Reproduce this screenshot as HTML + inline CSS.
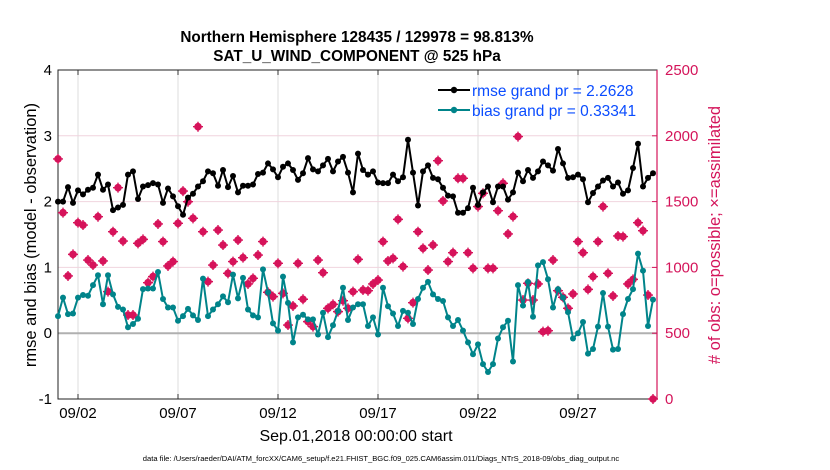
<!DOCTYPE html>
<html><head><meta charset="utf-8"><style>
body{margin:0;background:#fff;}
svg{display:block;font-family:"Liberation Sans",Arial,sans-serif;}
</style></head><body>
<svg id="chart" width="830" height="470" viewBox="0 0 830 470">
<g id="grid"></g>
<g id="axes"></g>
<g id="marks"></g>
<text x="357" y="42" text-anchor="middle" font-size="15.3" font-weight="bold">Northern Hemisphere 128435 / 129978 = 98.813%</text>
<text x="357" y="61" text-anchor="middle" font-size="15.3" font-weight="bold">SAT_U_WIND_COMPONENT @ 525 hPa</text>
<text transform="translate(36,235) rotate(-90)" text-anchor="middle" font-size="16.5">rmse and bias (model - observation)</text>
<text transform="translate(720,235) rotate(-90)" text-anchor="middle" font-size="16.5" fill="#d4145a"># of obs: o=possible; ×=assimilated</text>
<text x="356" y="441" text-anchor="middle" font-size="16">Sep.01,2018 00:00:00 start</text>
<text x="381" y="461" text-anchor="middle" font-size="7.6">data file: /Users/raeder/DAI/ATM_forcXX/CAM6_setup/f.e21.FHIST_BGC.f09_025.CAM6assim.011/Diags_NTrS_2018-09/obs_diag_output.nc</text>
<g>
<line x1="438" y1="90" x2="470" y2="90" stroke="#000" stroke-width="2"/>
<circle cx="454" cy="90" r="3.2" fill="#000"/>
<text x="472" y="96" font-size="15.5" fill="#0a4cff">rmse grand pr = 2.2628</text>
<line x1="438" y1="110" x2="470" y2="110" stroke="#00848a" stroke-width="2"/>
<circle cx="454" cy="110" r="3.2" fill="#00848a"/>
<text x="472" y="116" font-size="15.5" fill="#0a4cff">bias grand pr = 0.33341</text>
</g>
</svg>
<script>
const rmse=[2.0,2.0,2.22,1.98,2.17,2.11,2.18,2.21,2.41,2.18,2.26,1.87,1.91,1.95,2.41,2.46,2.04,2.23,2.25,2.28,2.26,1.98,2.2,2.08,1.93,1.8,2.06,2.12,2.23,2.31,2.46,
2.43,2.24,2.48,2.22,2.39,2.14,2.24,2.24,2.26,2.42,2.44,2.58,2.49,2.37,2.53,2.58,2.48,2.33,2.43,2.66,2.49,2.46,2.55,2.65,2.46,2.61,2.68,2.44,2.14,2.73,
2.48,2.41,2.46,2.29,2.28,2.28,2.41,2.31,2.37,2.94,2.44,1.94,2.46,2.55,2.36,2.34,2.21,2.09,2.08,1.83,1.83,1.90,2.21,1.95,2.14,2.23,1.99,2.23,2.23,2.03,
2.14,2.44,2.31,2.48,2.36,2.46,2.61,2.55,2.47,2.80,2.58,2.36,2.37,2.41,2.34,1.99,2.13,2.23,2.32,2.36,2.23,2.29,2.12,2.17,2.51,2.88,2.23,2.36,2.43];
const bias=[0.26,0.54,0.29,0.30,0.54,0.58,0.57,0.73,0.88,0.44,0.88,0.59,0.40,0.36,0.09,0.14,0.22,0.67,0.68,0.68,0.93,0.52,0.39,0.39,0.19,0.26,0.37,0.27,0.20,0.83,0.26,
0.36,0.44,0.56,0.47,0.89,0.53,0.84,0.36,0.27,0.24,0.97,0.62,0.15,0.04,0.86,0.46,-0.14,0.24,0.28,0.21,0.21,-0.02,0.31,-0.06,0.12,0.34,0.69,0.20,0.39,0.44,
0.44,0.11,0.24,-0.02,0.69,0.41,0.30,0.11,0.34,0.31,0.14,0.52,0.69,0.78,0.59,0.52,0.49,0.24,0.11,0.20,0.04,-0.14,-0.32,-0.17,-0.47,-0.59,-0.47,-0.08,0.09,0.19,
-0.43,0.73,0.42,0.78,0.25,1.03,1.08,0.82,0.39,0.67,0.54,0.32,-0.08,0.0,0.17,-0.31,-0.24,0.10,0.61,0.10,-0.25,-0.24,0.29,0.52,0.67,1.21,0.95,0.11,0.51];
const obsCount=[1824,1416,935,1099,1340,1322,1056,1018,1385,1049,816,1271,1606,1200,638,638,1183,1213,884,930,1330,1196,1011,1044,1335,1580,1499,1373,2069,1271,892,
1018,1284,1170,955,1044,1208,1074,874,917,1094,1196,811,778,1031,803,562,707,1031,758,588,550,1056,960,689,719,664,747,689,816,1061,
828,823,874,904,1196,1049,1069,1365,1006,613,732,1271,1145,980,1170,1811,1505,1044,1112,1677,1677,1112,993,1462,1563,993,993,1431,1639,1254,
1386,1994,752,879,752,874,512,519,1056,823,773,689,798,1196,1112,833,930,1196,1462,955,783,1239,1234,874,909,1340,1279,790,0];
const leftTicks=[-1,0,1,2,3,4];
const rightTicks=[0,500,1000,1500,2000,2500];
const dayTicks=[1,6,11,16,21,26];
const dayLabels=["09/02","09/07","09/12","09/17","09/22","09/27"];

const L=58,R=657,T=70,B=399;
const xDay=d=>L+d*(R-L)/29.95;
const xi=i=>xDay(i*0.25);
const yL=v=>B-(v+1)*(B-T)/5;
const yR=v=>B-v*(B-T)/2500;
const NS="http://www.w3.org/2000/svg";
function mk(tag,attrs,parent){const e=document.createElementNS(NS,tag);for(const k in attrs)e.setAttribute(k,attrs[k]);parent.appendChild(e);return e;}
const grid=document.getElementById('grid'),axes=document.getElementById('axes'),marks=document.getElementById('marks');

for(let k=0;k<dayTicks.length;k++){
  const x=xDay(dayTicks[k]);
  const g=mk('line',{x1:x,y1:T,x2:x,y2:B,stroke:'#dcdcdc','stroke-width':1},grid);
  
  
  mk('line',{x1:x,y1:B,x2:x,y2:B-5,stroke:'#333'},axes);
  mk('line',{x1:x,y1:T,x2:x,y2:T+5,stroke:'#333'},axes);
  const t=mk('text',{x:x,y:418,'text-anchor':'middle','font-size':15},axes);
  t.textContent=dayLabels[k];
  
  
}
for(const v of leftTicks){
  const y=yL(v);
  if(v>-1&&v<4){
    const g=mk('line',{x1:L,y1:y,x2:R,y2:y,stroke:v===0?'#b0b0b0':'#f0d4de','stroke-width':v===0?2:1},grid);
    
    
  }
  const t=mk('text',{x:L-6,y:y+5,'text-anchor':'end','font-size':15},axes);
  t.textContent=v;
  
  
}
for(const v of rightTicks){
  const y=yR(v);
  mk('line',{x1:R,y1:y,x2:R-5,y2:y,stroke:'#d4145a'},axes);
  const t=mk('text',{x:R+8,y:y+5,'font-size':15,fill:'#d4145a'},axes);
  t.textContent=v;
  
  
}
mk('rect',{x:L,y:T,width:R-L,height:B-T,fill:'none',stroke:'#222','stroke-width':1},axes);
mk('line',{x1:R,y1:T,x2:R,y2:B,stroke:'#d4145a','stroke-width':1.2},axes);

for(let i=0;i<obsCount.length;i++){
  const x=xi(i),y=yR(obsCount[i]);
  const c=mk('circle',{cx:x,cy:y,r:3.8,fill:'#d6135a'},marks);
  
  
  mk('path',{d:`M${x-5},${y}H${x+5}M${x},${y-5}V${y+5}`,stroke:'#d6135a','stroke-width':1.4},marks);
}
function series(vals,color,name){
  const d=vals.map((v,i)=>(i?'L':'M')+xi(i).toFixed(1)+','+yL(v).toFixed(1)).join('');
  const p=mk('path',{d:d,fill:'none',stroke:color,'stroke-width':2,'stroke-linejoin':'round'},marks);
  
  
  for(let i=0;i<vals.length;i++){
    const c=mk('circle',{cx:xi(i),cy:yL(vals[i]),r:3,fill:color},marks);
    
    
  }
}
series(bias,'#00848a','bias');
series(rmse,'#000000','rmse');
</script>
</body></html>
